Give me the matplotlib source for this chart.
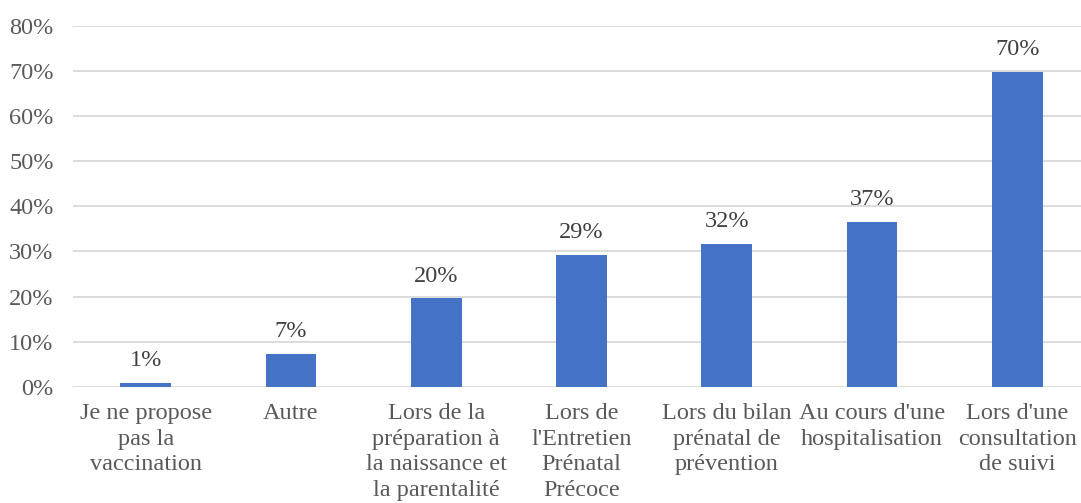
import matplotlib
matplotlib.use("Agg")
from matplotlib import pyplot as plt
from matplotlib.ticker import PercentFormatter

categories = ["Je ne propose\npas la\nvaccination", "Autre",
              "Lors de la\npréparation à\nla naissance et\nla parentalité",
              "Lors de\nl'Entretien\nPrénatal\nPrécoce",
              "Lors du bilan\nprénatal de\nprévention",
              "Au cours d'une\nhospitalisation",
              "Lors d'une\nconsultation\nde suivi"]
values = [0.009, 0.073, 0.196, 0.292, 0.316, 0.365, 0.698]
labels = ["1%", "7%", "20%", "29%", "32%", "37%", "70%"]

plt.rcParams['font.family'] = ['Liberation Serif', 'DejaVu Serif']
text_col = '#595959'
fs = 17.5

fig = plt.figure(figsize=(10.81, 5.03), dpi=100)
ax = fig.add_axes([73/1081, 1 - 386.7/503, 1017/1081, 360.7/503])

x = range(len(categories))
ax.bar(x, values, width=0.35, color='#4472C4', zorder=3)
for i, (v, lab) in enumerate(zip(values, labels)):
    ax.annotate(lab, (i, v), xytext=(0, 8.5), textcoords='offset points',
                ha='center', va='bottom', fontsize=fs, color='#404040')

ax.set_xlim(-0.5, 6.5)
ax.set_ylim(0, 0.8)
ax.set_yticks([i / 10 for i in range(9)])
ax.yaxis.set_major_formatter(PercentFormatter(1.0, decimals=0))
ax.set_xticks(list(x))
ax.set_xticklabels(categories, fontsize=fs, color=text_col, linespacing=1.28)
ax.tick_params(axis='y', labelsize=fs, labelcolor=text_col, length=0, pad=14)
ax.tick_params(axis='x', length=0, pad=12)
ax.grid(axis='y', color='#D9D9D9', linewidth=1.3, zorder=0)
for s in ax.spines.values():
    s.set_visible(False)

fig.savefig('out.png', dpi=100)
